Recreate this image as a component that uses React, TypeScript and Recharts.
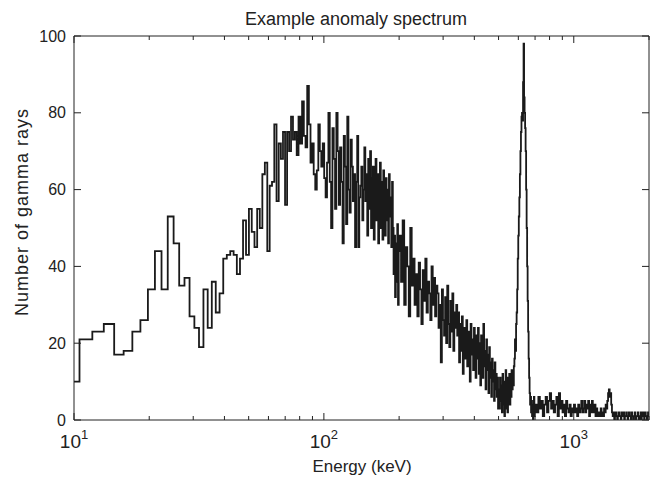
import { LineChart, Line, XAxis, YAxis } from 'recharts';

// Histogram bins: each block has a start energy (keV), a bin width (keV) and the counts per bin
const lowStart = 9.2;
const lowWidth = 1.32;
const lowCounts = [
  10, 21, 23, 25, 17, 18, 23, 26, 34, 44, 34, 53, 46, 35, 37, 27, 24, 19, 34, 24,
  36, 28, 33, 42, 43, 44, 43, 38, 42, 52, 43, 55, 49, 45, 55, 50, 64, 67, 44, 61,
  62, 77, 57, 72, 68, 75, 56, 75, 70, 79, 73, 75, 69, 79, 72, 83,
  74, 71, 87, 77, 67, 72, 64, 60, 65, 77, 70, 66, 72, 63, 58, 67, 80, 62, 50, 76,
  68, 55, 80, 70, 56, 71, 62, 46, 74, 66, 51, 79, 60, 54, 73, 66, 57, 64, 45, 62,
  74, 45, 58, 61, 66, 52, 60, 71, 57, 64, 48, 68, 55, 70, 50, 63, 66, 47, 60, 68,
  52, 64, 46, 58,
  67, 50, 62, 47, 65, 55, 48, 63, 52, 60, 46, 64, 53, 58, 45, 62,
  50, 38, 48, 32, 46, 36, 51, 30, 44,
];

const midStart = 200.6;
const midWidth = 3;
const midCounts = [
  48, 36, 52, 30, 45, 40, 27, 50, 35,
  42, 30, 38, 27, 41, 34, 25, 39, 31, 42, 28, 36, 33, 26, 40, 30, 37, 27, 35,
  33, 24, 30, 15, 34, 26, 22, 32, 20, 35, 25, 19, 31, 23, 33, 18, 28, 24, 30,
  22, 28, 15, 25, 18, 27, 12, 24, 20, 16, 26, 14, 23, 19, 10, 25, 17, 21, 13, 24, 18, 11, 22,
  16, 24, 12, 20, 9, 22, 15, 11, 25, 14, 18, 8, 21, 13, 17, 7, 19, 11, 15, 6, 16, 10, 13, 5,
  15, 8, 12, 6,
  11, 3,
];

const peakStart = 500.6;
const peakWidth = 3;
const peakCounts = [
  8, 3, 11, 5, 9, 2, 12, 4, 10, 1,
  7, 13, 3, 9, 2, 11, 5, 12, 4, 10, 6, 13, 8, 12, 9, 14,
  16, 21, 18, 25, 28, 34,
  42, 48, 53, 58,
  64, 70, 75, 79,
  80, 78, 88,
  98,
  84, 80, 76, 70,
  60, 50, 40, 31, 23, 16, 11, 7,
  4, 6, 2, 5, 1, 4, 0, 3, 6, 1, 2,
];

const tailStart = 701.6;
const tailWidth = 10;
const tailCounts = [
  4, 2, 6, 3, 5, 1, 4, 6, 2, 5,
  7, 3, 5, 2, 4, 6, 1, 7, 3, 5,
  2, 4, 1, 5, 3, 2, 4, 1, 3, 2,
  4, 2, 3, 1, 4, 2, 3, 5, 2, 3,
  5, 2, 4, 3, 5, 1, 4, 2, 5, 3,
  2, 4, 1, 3, 2, 1, 2, 1, 3, 1,
  2, 1, 3, 2, 4, 3, 5, 7, 8, 6,
  7, 4, 2, 1, 2, 0, 1, 2, 1, 0,
  1, 2, 1, 1, 0, 2, 1, 1, 2, 0,
  1, 1, 2, 1, 0, 1, 2, 1, 1, 0,
  2, 1, 1, 0, 1, 2, 1, 0, 1, 1,
  2, 1, 0, 1, 1, 2, 0, 1, 1, 2,
  1, 0, 1, 2, 1, 1, 0, 1, 2, 1,
];

const xMin = 10;
const xMax = 2000;
const xTicks = [10, 20, 30, 40, 50, 60, 70, 80, 90, 100, 200, 300, 400, 500, 600, 700, 800, 900, 1000, 2000];
const xMajor = [10, 100, 1000];
const xMajorExp = ['1', '2', '3'];
const yTicks = [0, 20, 40, 60, 80, 100];

const ink = '#222';

type Pt = { e: number; v: number };

const toPoints = (start: number, width: number, counts: number[]): Pt[] =>
  counts.map((v, i) => ({ e: Math.max(xMin, start + i * width), v }));

const data: Pt[] = [
  ...toPoints(lowStart, lowWidth, lowCounts),
  ...toPoints(midStart, midWidth, midCounts),
  ...toPoints(peakStart, peakWidth, peakCounts),
  ...toPoints(tailStart, tailWidth, tailCounts),
];
data.push({ e: xMax, v: tailCounts[tailCounts.length - 1] });

const BottomTick = (props: any) => {
  const { x, y, payload } = props;
  const idx = xMajor.indexOf(payload.value);
  const major = idx >= 0;
  return (
    <g>
      <line x1={x} y1={y} x2={x} y2={y - (major ? 7 : 4)} stroke={ink} />
      {major && (
        <text x={x} y={y + 28} textAnchor="middle" fontSize={19} fill={ink}>
          10
          <tspan dy={-9} fontSize={13}>
            {xMajorExp[idx]}
          </tspan>
        </text>
      )}
    </g>
  );
};

const TopTick = (props: any) => {
  const { x, y, payload } = props;
  const major = xMajor.includes(payload.value);
  return <line x1={x} y1={y} x2={x} y2={y + (major ? 7 : 4)} stroke={ink} />;
};

const LeftTick = (props: any) => {
  const { x, y, payload } = props;
  return (
    <g>
      <line x1={x} y1={y} x2={x + 7} y2={y} stroke={ink} />
      <text x={x - 8} y={y} dy="0.35em" textAnchor="end" fontSize={16} fill={ink}>
        {payload.value}
      </text>
    </g>
  );
};

const RightTick = (props: any) => {
  const { x, y } = props;
  return <line x1={x} y1={y} x2={x - 7} y2={y} stroke={ink} />;
};

export default function App() {
  return (
    <div
      style={{
        position: 'absolute',
        left: 0,
        top: 0,
        width: 656,
        height: 483,
        background: '#fff',
        fontFamily: '"Liberation Sans", Arial, sans-serif',
      }}
    >
      <LineChart width={656} height={483} data={data} margin={{ top: 26, right: 2, bottom: 33, left: 34 }}>
        <XAxis
          dataKey="e"
          type="number"
          scale="log"
          domain={[xMin, xMax]}
          allowDataOverflow
          ticks={xTicks}
          interval={0}
          height={30}
          tickSize={0}
          tickMargin={0}
          tick={<BottomTick />}
          tickLine={false}
          axisLine={{ stroke: ink }}
        />
        <XAxis
          xAxisId="top"
          orientation="top"
          dataKey="e"
          type="number"
          scale="log"
          domain={[xMin, xMax]}
          allowDataOverflow
          ticks={xTicks}
          interval={0}
          height={10}
          tickSize={0}
          tickMargin={0}
          tick={<TopTick />}
          tickLine={false}
          axisLine={{ stroke: ink }}
        />
        <YAxis
          type="number"
          domain={[0, 100]}
          allowDataOverflow
          ticks={yTicks}
          interval={0}
          width={40}
          tickSize={0}
          tickMargin={0}
          tick={<LeftTick />}
          tickLine={false}
          axisLine={{ stroke: ink }}
        />
        <YAxis
          yAxisId="right"
          orientation="right"
          type="number"
          domain={[0, 100]}
          allowDataOverflow
          ticks={yTicks}
          interval={0}
          width={5}
          tickSize={0}
          tickMargin={0}
          tick={<RightTick />}
          tickLine={false}
          axisLine={{ stroke: ink }}
        />
        <Line
          type="stepAfter"
          dataKey="v"
          stroke="#1a1a1a"
          strokeWidth={1.8}
          dot={false}
          isAnimationActive={false}
        />
      </LineChart>
      <svg
        width={656}
        height={483}
        style={{ position: 'absolute', left: 0, top: 0, pointerEvents: 'none' }}
      >
        <text x={356} y={24.5} textAnchor="middle" fontSize={18} fill={ink}>
          Example anomaly spectrum
        </text>
        <text x={362} y={472} textAnchor="middle" fontSize={17} fill={ink}>
          Energy (keV)
        </text>
        <text
          x={0}
          y={0}
          transform="translate(28 212) rotate(-90)"
          textAnchor="middle"
          fontSize={18}
          letterSpacing={1}
          fill={ink}
        >
          Number of gamma rays
        </text>
      </svg>
    </div>
  );
}
